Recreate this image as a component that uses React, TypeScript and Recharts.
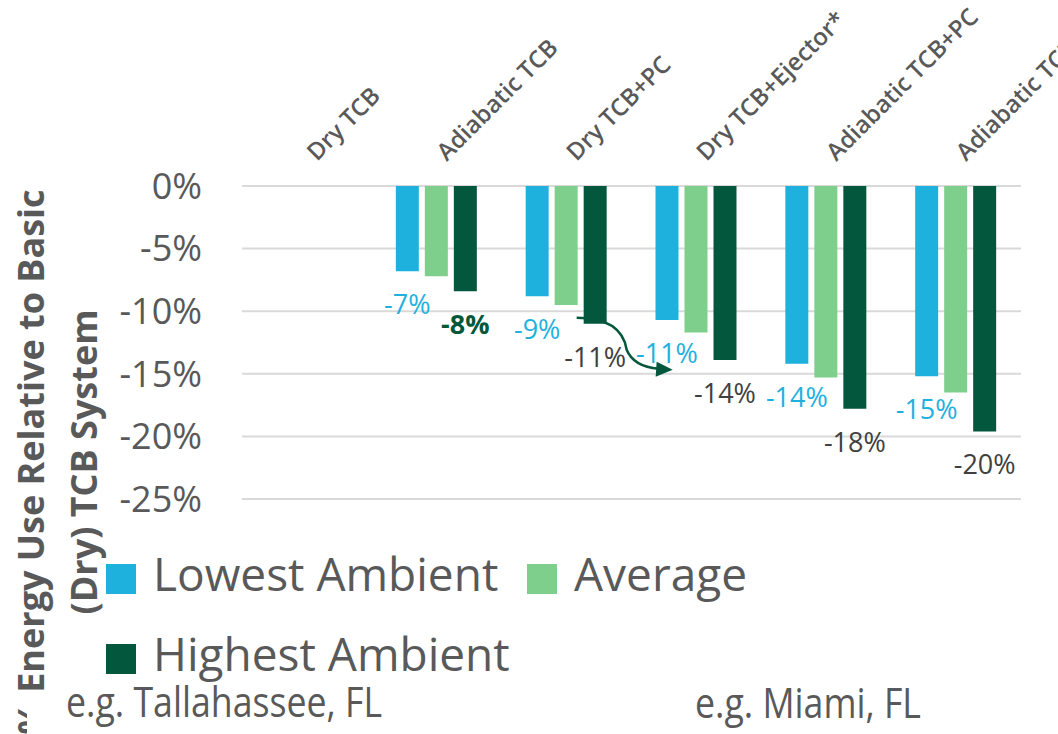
import React from 'react';
import { BarChart, Bar, XAxis, YAxis, CartesianGrid, Legend, LabelList } from 'recharts';

const categories = ['Dry TCB', 'Adiabatic TCB', 'Dry TCB+PC', 'Dry TCB+Ejector*', 'Adiabatic TCB+PC', 'Adiabatic TCB+Ejector*'];
const lowestAmbient = [null, -6.8, -8.8, -10.7, -14.2, -15.2];
const average = [null, -7.2, -9.5, -11.7, -15.3, -16.5];
const highestAmbient = [null, -8.4, -11.0, -13.9, -17.8, -19.6];
const yTicks = [0, -5, -10, -15, -20, -25];
const seriesNames = ['Lowest Ambient', 'Average', 'Highest Ambient'];
const footnotes = ['e.g. Tallahassee, FL', 'e.g. Miami, FL'];
const yTitleLines = ['% Energy Use Relative to Basic', '(Dry) TCB System'];

const BLUE = '#1FB1DE';
const LIGHT = '#7DCF8B';
const DARK = '#03573C';
const GRAY = '#595959';
const FONT = '"Open Sans", sans-serif';

const data = categories.map((c, i) => ({
  category: c,
  low: lowestAmbient[i],
  avg: average[i],
  high: highestAmbient[i],
}));

const fmt = (v: number) => `${Math.round(v)}%`;

const CategoryTick = (props: any) => {
  const { x, y, payload } = props;
  const ax = x + 10;
  const ay = y - 24;
  return (
    <text
      x={ax}
      y={ay}
      transform={`rotate(-45, ${ax}, ${ay})`}
      textAnchor="start"
      fontFamily={FONT}
      fontWeight={600}
      fontSize={24}
      fill={GRAY}
    >
      {payload.value}
    </text>
  );
};

const BlueLabel = (props: any) => {
  const { x, y, width, height, value } = props;
  if (value == null) return null;
  const bottom = Math.max(y, y + height);
  return (
    <text x={x + width / 2} y={bottom + 43} textAnchor="middle" fill={BLUE} fontSize={27} fontFamily={FONT}>
      {fmt(value)}
    </text>
  );
};

const DarkLabel = (props: any) => {
  const { x, y, width, height, value } = props;
  if (value == null) return null;
  const idx = highestAmbient.indexOf(value);
  const b = Math.max(y, y + height);
  const bold = idx === 1;
  return (
    <g>
      {idx === 2 && (
        <g>
          <path
            d={`M ${x - 7} ${b - 6} Q ${x + 38} ${b - 6} ${x + 43} ${b + 26} Q ${x + 50} ${b + 43} ${x + 75} ${b + 45}`}
            fill="none"
            stroke={DARK}
            strokeWidth={2.5}
          />
          <polygon points={`${x + 73},${b + 38} ${x + 89},${b + 46} ${x + 72},${b + 53}`} fill={DARK} />
        </g>
      )}
      <text
        x={x + width / 2}
        y={b + 43}
        textAnchor="middle"
        fill={bold ? DARK : '#404040'}
        fontWeight={bold ? 700 : 400}
        fontSize={27}
        fontFamily={FONT}
      >
        {fmt(value)}
      </text>
    </g>
  );
};

const YTitle = () => (
  <g>
    <text
      transform="translate(44, 462) rotate(-90)"
      textAnchor="middle"
      fontFamily={FONT}
      fontWeight={700}
      fontSize={36}
      fill={GRAY}
    >
      {yTitleLines[0]}
    </text>
    <text
      transform="translate(97, 462) rotate(-90)"
      textAnchor="middle"
      fontFamily={FONT}
      fontWeight={700}
      fontSize={36}
      fill={GRAY}
    >
      {yTitleLines[1]}
    </text>
  </g>
);

const legendSlots = [
  { rx: 106, ry: 24, tx: 153, ty: 51 },
  { rx: 527, ry: 24, tx: 574, ty: 51 },
  { rx: 106, ry: 104, tx: 153, ty: 131 },
];

const LegendContent = (props: any) => {
  const { payload } = props;
  return (
    <svg width={1058} height={150} style={{ display: 'block' }}>
      {(payload || []).map((p: any, i: number) => {
        const s = legendSlots[seriesNames.indexOf(p.value)];
        if (!s) return null;
        return (
          <g key={i}>
            <rect x={s.rx} y={s.ry} width={30} height={30} fill={p.color} />
            <text x={s.tx} y={s.ty} fontFamily={FONT} fontSize={46} fill={GRAY}>
              {p.value}
            </text>
          </g>
        );
      })}
    </svg>
  );
};

export default function App() {
  return (
    <div style={{ position: 'absolute', left: 0, top: 0, width: 1058, height: 734, background: '#fff', fontFamily: FONT }}>
      <BarChart
        width={1058}
        height={734}
        data={data}
        margin={{ top: 0, right: 37, bottom: 235, left: 0 }}
        barSize={23}
        barGap={6}
      >
        <CartesianGrid vertical={false} stroke="#D9D9D9" strokeWidth={2} />
        <XAxis
          dataKey="category"
          orientation="top"
          height={186}
          axisLine={false}
          tickLine={false}
          tickSize={0}
          tickMargin={0}
          interval={0}
          tick={<CategoryTick />}
        />
        <YAxis
          width={242}
          domain={[-25, 0]}
          ticks={yTicks}
          tickFormatter={(v: number) => `${v}%`}
          axisLine={false}
          tickLine={false}
          tickSize={6}
          tickMargin={34}
          tick={{ fill: GRAY, fontSize: 36, fontFamily: FONT }}
          label={{ content: <YTitle /> } as any}
        />
        <Legend
          layout="horizontal"
          align="center"
          verticalAlign="middle"
          wrapperStyle={{ left: 0, top: 540, width: 1058, height: 150 }}
          content={<LegendContent />}
        />
        <Bar dataKey="low" name={seriesNames[0]} fill={BLUE} isAnimationActive={false}>
          <LabelList dataKey="low" content={<BlueLabel />} />
        </Bar>
        <Bar dataKey="avg" name={seriesNames[1]} fill={LIGHT} isAnimationActive={false} />
        <Bar dataKey="high" name={seriesNames[2]} fill={DARK} isAnimationActive={false}>
          <LabelList dataKey="high" content={<DarkLabel />} />
        </Bar>
      </BarChart>
      <svg
        width={1058}
        height={734}
        style={{ position: 'absolute', left: 0, top: 0, pointerEvents: 'none' }}
      >
        <rect x={27} y={690} width={400} height={44} fill="#fff" />
        <text transform="translate(66, 717) scale(0.85, 1)" fontFamily={FONT} fontSize={42} fill={GRAY}>
          {footnotes[0]}
        </text>
        <text transform="translate(695, 718) scale(0.85, 1)" fontFamily={FONT} fontSize={42} fill={GRAY}>
          {footnotes[1]}
        </text>
      </svg>
    </div>
  );
}
